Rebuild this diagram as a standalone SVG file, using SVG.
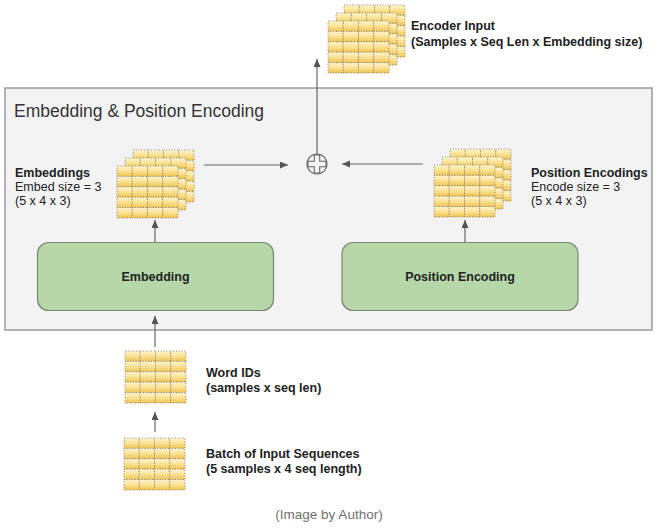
<svg xmlns="http://www.w3.org/2000/svg" xmlns:xlink="http://www.w3.org/1999/xlink" width="663" height="528" viewBox="0 0 663 528">
<style>
.cell{fill:url(#cellGrad);stroke:#555;stroke-width:0.75;stroke-dasharray:0.9 1.8}
.lbl{font-family:"Liberation Sans",Arial,sans-serif;font-size:12.5px;fill:#222}
.b{font-weight:bold}
.title{font-family:"Liberation Sans",Arial,sans-serif;font-size:17.5px;fill:#333}
.box{fill:#b6d7a8;stroke:#7a8575;stroke-width:1.2}
.conn{stroke:#666;stroke-width:1.2;fill:none;marker-end:url(#arr)}
.cap{font-family:"Liberation Sans",Arial,sans-serif;font-size:13.5px;fill:#707070}
</style>
<defs>
<linearGradient id="cellGrad" x1="0" y1="0" x2="0" y2="1">
<stop offset="0" stop-color="#fff5cf"/>
<stop offset="0.5" stop-color="#fbe193"/>
<stop offset="1" stop-color="#f1c451"/>
</linearGradient>
<marker id="arr" markerUnits="userSpaceOnUse" markerWidth="9" markerHeight="8" refX="8" refY="3.5" orient="auto">
<path d="M0,0 L8,3.5 L0,7 z" fill="#555"/>
</marker>
<g id="grid">
<rect class="cell" x="0" y="0" width="15.25" height="10.4"/><rect class="cell" x="15.25" y="0" width="15.25" height="10.4"/><rect class="cell" x="30.5" y="0" width="15.25" height="10.4"/><rect class="cell" x="45.75" y="0" width="15.25" height="10.4"/>
<rect class="cell" x="0" y="10.4" width="15.25" height="10.4"/><rect class="cell" x="15.25" y="10.4" width="15.25" height="10.4"/><rect class="cell" x="30.5" y="10.4" width="15.25" height="10.4"/><rect class="cell" x="45.75" y="10.4" width="15.25" height="10.4"/>
<rect class="cell" x="0" y="20.8" width="15.25" height="10.4"/><rect class="cell" x="15.25" y="20.8" width="15.25" height="10.4"/><rect class="cell" x="30.5" y="20.8" width="15.25" height="10.4"/><rect class="cell" x="45.75" y="20.8" width="15.25" height="10.4"/>
<rect class="cell" x="0" y="31.2" width="15.25" height="10.4"/><rect class="cell" x="15.25" y="31.2" width="15.25" height="10.4"/><rect class="cell" x="30.5" y="31.2" width="15.25" height="10.4"/><rect class="cell" x="45.75" y="31.2" width="15.25" height="10.4"/>
<rect class="cell" x="0" y="41.6" width="15.25" height="10.4"/><rect class="cell" x="15.25" y="41.6" width="15.25" height="10.4"/><rect class="cell" x="30.5" y="41.6" width="15.25" height="10.4"/><rect class="cell" x="45.75" y="41.6" width="15.25" height="10.4"/>
</g>
<g id="stack">
<use xlink:href="#grid" href="#grid" x="16" y="-16"/>
<use xlink:href="#grid" href="#grid" x="8" y="-8"/>
<use xlink:href="#grid" href="#grid" x="0" y="0"/>
</g>
</defs>

<g id="container">
<rect x="5" y="88" width="647" height="242" fill="#f3f3f3" stroke="#9a9a9a" stroke-width="1.5"/>
<text class="title" x="14" y="117">Embedding &amp; Position Encoding</text>
</g>

<g id="connectors">
<line class="conn" x1="155" y1="432" x2="155" y2="412"/>
<line class="conn" x1="155" y1="347" x2="155" y2="316"/>
<line class="conn" x1="155" y1="242" x2="155" y2="220"/>
<line class="conn" x1="465" y1="242" x2="465" y2="220"/>
<line class="conn" x1="204" y1="165" x2="288" y2="165"/>
<line class="conn" x1="423" y1="164" x2="342" y2="164"/>
<line class="conn" x1="317" y1="154" x2="317" y2="59"/>
</g>

<g id="encoder-input">
<use xlink:href="#stack" href="#stack" x="328" y="21"/>
<text class="lbl b" x="411" y="30">Encoder Input</text>
<text class="lbl b" x="411" y="46">(Samples x Seq Len x Embedding size)</text>
</g>

<g id="add">
<circle cx="317" cy="164" r="10" fill="#f3f3f3" stroke="#666" stroke-width="1.2"/>
<polygon points="314.3,155 319.7,155 319.7,161.3 326,161.3 326,166.7 319.7,166.7 319.7,173 314.3,173 314.3,166.7 308,166.7 308,161.3 314.3,161.3" fill="none" stroke="#666" stroke-width="1.1"/>
</g>

<g id="embeddings">
<use xlink:href="#stack" href="#stack" x="117" y="166"/>
<text class="lbl b" x="15" y="177">Embeddings</text>
<text class="lbl" x="15" y="191">Embed size = 3</text>
<text class="lbl" x="15" y="205">(5 x 4 x 3)</text>
</g>

<g id="position-encodings">
<use xlink:href="#stack" href="#stack" x="434" y="165"/>
<text class="lbl b" x="531" y="177">Position Encodings</text>
<text class="lbl" x="531" y="191">Encode size = 3</text>
<text class="lbl" x="531" y="205">(5 x 4 x 3)</text>
</g>

<g id="embedding">
<rect class="box" x="37.5" y="242.5" width="236" height="68" rx="11"/>
<text class="lbl b" x="155.5" y="281" text-anchor="middle">Embedding</text>
</g>

<g id="position-encoding">
<rect class="box" x="342" y="242.5" width="236" height="68" rx="11"/>
<text class="lbl b" x="460" y="281" text-anchor="middle">Position Encoding</text>
</g>

<g id="word-ids">
<use xlink:href="#grid" href="#grid" x="125" y="351"/>
<text class="lbl b" x="206" y="377">Word IDs</text>
<text class="lbl b" x="206" y="392">(samples x seq len)</text>
</g>

<g id="batch">
<use xlink:href="#grid" href="#grid" x="124" y="438"/>
<text class="lbl b" x="206" y="458">Batch of Input Sequences</text>
<text class="lbl b" x="206" y="473">(5 samples x 4 seq length)</text>
</g>

<text class="cap" x="329" y="519" text-anchor="middle">(Image by Author)</text>
</svg>
